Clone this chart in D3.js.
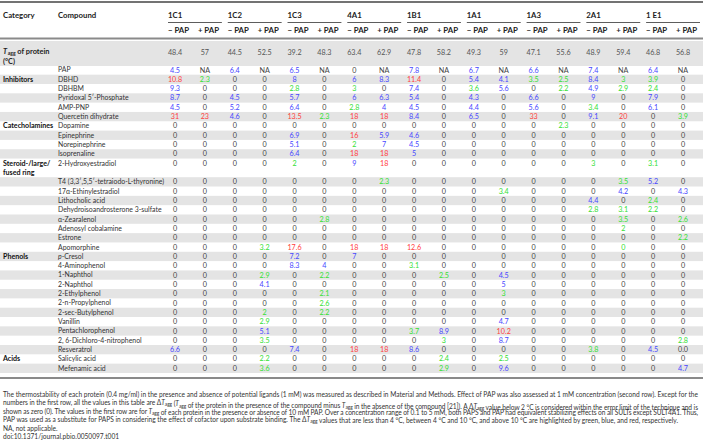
<!DOCTYPE html>
<html><head><meta charset="utf-8">
<script src="https://cdn.jsdelivr.net/npm/d3@7"></script>
<style>body{margin:0;background:#fff}svg{display:block}text{font-family:Lato,"Open Sans",sans-serif}</style>
</head><body><svg id="c" width="703" height="440"></svg>
<script>
// ---------- DATA ----------
const isoforms = ["1C1","1C2","1C3","4A1","1B1","1A1","1A3","2A1","1 E1"];
const conditions = ["− PAP","+ PAP"];
const taggValues = ["48.4","57","44.5","52.5","39.2","48.3","63.4","62.9","47.8","58.2","49.3","59","47.1","55.6","48.9","59.4","46.8","56.8"];
const compounds = ["PAP","DBHD","DBHBM","Pyridoxal 5′-Phosphate","AMP-PNP","Quercetin dihydrate",
  "Dopamine","Epinephrine","Norepinephrine","Isoprenaline",
  "2-Hydroxyestradiol","T4 (3,3′,5,5′-tetraiodo-L-thyronine)","17α-Ethinylestradiol","Lithocholic acid",
  "Dehydroisoandrosterone 3-sulfate","α-Zearalenol","Adenosyl cobalamine","Estrone","Apomorphine",
  "p-Cresol","4-Aminophenol","1-Naphthol","2-Naphthol","2-Ethylphenol","2-n-Propylphenol","2-sec-Butylphenol",
  "Vanillin","Pentachlorophenol","2, 6-Dichloro-4-nitrophenol","Resveratrol","Salicylic acid","Mefenamic acid"];
const categoryLabels = [["Inhibitors"],["Catecholamines"],["Steroid-/large/","fused ring"],["Phenols"],["Acids"]];
const categoryFirst = ["DBHD","Dopamine","2-Hydroxyestradiol","p-Cresol","Salicylic acid"];
// ΔTagg values, one array per compound, columns: isoform × (−PAP, +PAP)
const deltaTagg = [
 ["4.5","NA","6.4","NA","6.5","NA","0","NA","7.8","NA","6.7","NA","6.6","NA","7.4","NA","6.4","NA"],
 ["10.8","2.3","0","0","8","0","6","8.3","11.4","0","5.4","4.1","3.5","2.5","8.4","3","3.9","0"],
 ["9.3","0","0","0","2.8","0","3","0","7.4","0","3.6","5.6","0","2.2","4.9","2.9","2.4","0"],
 ["8.7","0","4.5","0","5.7","0","6","6.3","5.4","0","4.3","0","6.6","0","9","0","7.9","0"],
 ["4.5","0","5.2","0","6.4","0","2.8","4","4.5","0","4.4","0","5.6","0","3.4","0","6.1","0"],
 ["31","23","4.6","0","13.5","2.3","18","18","8.4","0","6.5","0","33","0","9.1","20","0","3.9"],
 ["0","0","0","0","0","0","0","0","0","0","0","0","0","2.3","0","0","0","0"],
 ["0","0","0","0","6.9","0","16","5.9","4.6","0","0","0","0","0","0","0","0","0"],
 ["0","0","0","0","5.1","0","2","7","4.5","0","0","0","0","0","0","0","0","0"],
 ["0","0","0","0","6.4","0","18","18","5","0","0","0","0","0","0","0","0","0"],
 ["0","0","0","0","2","0","9","18","0","0","0","0","0","0","3","0","3.1","0"],
 ["0","0","0","0","0","0","0","2.3","0","0","0","0","0","0","0","3.5","5.2","0"],
 ["0","0","0","0","0","0","0","0","0","0","0","3.4","0","0","0","4.2","0","4.3"],
 ["0","0","0","0","0","0","0","0","0","0","0","0","0","0","4.4","0","2.4","0"],
 ["0","0","0","0","0","0","0","0","0","0","0","0","0","0","2.8","3.1","2.2","0"],
 ["0","0","0","0","0","2.8","0","0","0","0","0","0","0","0","0","3.5","0","2.6"],
 ["0","0","0","0","0","0","0","0","0","0","0","0","0","0","0","2","0","0"],
 ["0","0","0","0","0","0","0","0","0","0","0","0","0","0","0","0","0","2.2"],
 ["0","0","0","3.2","17.6","0","18","18","12.6","0","0","0","0","0","0","0","0","0"],
 ["0","0","0","0","7.2","0","7","0","0","0","","0","0","0","0","0","0","0"],
 ["0","0","0","0","8.3","4","0","0","3.1","0","0","0","0","0","0","0","0","0"],
 ["0","0","0","2.9","0","2.2","0","0","0","2.5","0","4.5","0","0","0","0","0","0"],
 ["0","0","0","4.1","0","0","0","0","0","0","0","5","0","0","0","0","0","0"],
 ["0","0","0","0","0","2.1","0","0","0","0","0","3","0","0","0","0","0","0"],
 ["0","0","0","0","0","2.6","0","0","0","0","0","0","0","0","0","0","0","0"],
 ["0","0","0","2","0","2.2","0","0","0","0","0","0","0","0","0","0","0","0"],
 ["0","0","0","2.9","0","0","0","0","0","0","0","4.7","0","0","0","0","0","0"],
 ["0","0","0","5.1","0","0","0","0","3.7","8.9","0","10.2","0","0","0","0","0","0"],
 ["0","0","0","3.5","0","0","0","0","0","3","0","8.7","0","0","0","0","0","2.8"],
 ["6.6","0","0","0","7.4","0","18","18","8.6","0","0","0","0","0","3.8","0","4.5","0.0"],
 ["0","0","0","2.2","0","0","0","0","0","2.4","0","2.5","0","0","0","0","0","0"],
 ["0","0","0","3.6","0","0","0","0","0","2.9","0","9.6","0","0","0","0","0","4.7"]
];
// cells printed in green although zero in the source table: [compoundIndex, column]
const greenZeroCells = [[18,15]];
const footnote = [
 "The thermostability of each protein (0.4 mg/ml) in the presence and absence of potential ligands (1 mM) was measured as described in Material and Methods. Effect of PAP was also assessed at 1 mM concentration (second row). Except for the",
 "numbers in the first row, all the values in this table are Δ§ (§ of the protein in the presence of the compound minus § in the absence of the compound [21]). A Δ§ value below 2 °C is considered within the error limit of the technique and is",
 "shown as zero (0). The values in the first row are for § of each protein in the presence or absence of 10 mM PAP. Over a concentration range of 0.1 to 5 mM, both PAPS and PAP had equivalent stabilizing effects on all SULTs except SULT4A1. Thus,",
 "PAP was used as a substitute for PAPS in considering the effect of cofactor upon substrate binding. The Δ§ values that are less than 4 °C, between 4 °C and 10 °C, and above 10 °C are highlighted by green, blue, and red, respectively.",
 "NA, not applicable.",
 "doi:10.1371/journal.pbio.0050097.t001"
];

// ---------- DRAW ----------
const svg = d3.select("#c");
const W = 703;
const FS = 7.2;   // values font size
const FC = 6.9;   // compound names font size
const nCols = isoforms.length * conditions.length;
const x = d3.scaleLinear().domain([0, nCols - 1]).range([175, 683]);
const lineOf = i => i + (i > compounds.indexOf("2-Hydroxyestradiol") ? 1 : 0);
const y = d3.scaleLinear().domain([0, 32]).range([70, 368.3]);
const rowH = y(1) - y(0);
const GRAY = "#e4e4e4";
const colorOf = (v, r, c) => {
  if (greenZeroCells.some(([a,b]) => a === r && b === c)) return "#33e033";
  const n = +v;
  if (v === "NA" || v === "" || isNaN(n) || n === 0) return "#444";
  if (n < 4) return "#33e033";
  if (n <= 10) return "#4747ff";
  return "#ff4040";
};

// background bands
svg.append("rect").attr("x",0).attr("y",41).attr("width",W).attr("height",25).attr("fill",GRAY);
svg.selectAll("rect.band").data(compounds.map((c,i)=>i).filter(i => i % 2 === 1))
  .join("rect").attr("class","band")
  .attr("x",0).attr("width",W)
  .attr("y", i => y(lineOf(i)) - rowH/2).attr("height", rowH)
  .attr("fill", GRAY);

// rules
svg.append("line").attr("x1",0).attr("x2",W).attr("y1",2).attr("y2",2).attr("stroke","#444").attr("stroke-width",1.6);
svg.append("line").attr("x1",0).attr("x2",W).attr("y1",38.5).attr("y2",38.5).attr("stroke","#8a8a8a").attr("stroke-width",1.8);
svg.append("line").attr("x1",0).attr("x2",W).attr("y1",378).attr("y2",378).attr("stroke","#8a8a8a").attr("stroke-width",1.8);

// header
const hdr = svg.append("g").attr("font-weight","bold").attr("fill","#222").attr("font-size",7.8);
hdr.append("text").attr("x",3).attr("y",18).text("Category");
hdr.append("text").attr("x",58).attr("y",18).text("Compound");
isoforms.forEach((iso, g) => {
  const x0 = x(2*g) - 7, x1 = x(2*g+1) + 17;
  hdr.append("text").attr("x", x0).attr("y", 18).text(iso);
  svg.append("line").attr("x1",x0).attr("x2",x1).attr("y1",22.5).attr("y2",22.5).attr("stroke","#333").attr("stroke-width",0.8);
  conditions.forEach((cnd, k) => {
    hdr.append("text").attr("x", x(2*g+k) - 7).attr("y", 32.5).text(cnd);
  });
});

// Tagg row
const tl = svg.append("text").attr("x",3).attr("y",53.5).attr("font-size",7.4).attr("font-weight","bold").attr("fill","#222");
tl.append("tspan").attr("font-style","italic").text("T");
tl.append("tspan").attr("font-size",5).attr("dx",0.6).attr("dy",1.2).text("agg");
tl.append("tspan").attr("dy",-1.2).text(" of protein");
svg.append("text").attr("x",3).attr("y",64).attr("font-size",7.4).attr("font-weight","bold").attr("fill","#222").text("(°C)");
svg.selectAll("text.tagg").data(taggValues).join("text").attr("class","tagg")
  .attr("x",(d,i)=>x(i)).attr("y",54.5).attr("text-anchor","middle")
  .attr("font-size",FS).attr("fill","#555").text(d=>d);

// compound names
svg.selectAll("text.cmp").data(compounds).join("text").attr("class","cmp")
  .attr("x",58).attr("y",(d,i)=>y(lineOf(i))).attr("dy","0.35em")
  .attr("font-size",FC).attr("fill","#333")
  .each(function(d){
    const t = d3.select(this);
    if (d.startsWith("p-")) { t.append("tspan").attr("font-style","italic").text("p"); t.append("tspan").text(d.slice(1)); }
    else t.text(d);
  });

// category labels
categoryLabels.forEach((lines, k) => {
  const li = lineOf(compounds.indexOf(categoryFirst[k]));
  lines.forEach((s, j) => {
    svg.append("text").attr("x",3).attr("y",y(li + j)).attr("dy","0.35em")
      .attr("font-size",7.1).attr("font-weight","bold").attr("fill","#111").text(s);
  });
});

// values
deltaTagg.forEach((row, r) => {
  svg.append("g").selectAll("text").data(row).join("text")
    .attr("x",(d,c)=>x(c)).attr("y",y(lineOf(r))).attr("dy","0.35em")
    .attr("text-anchor","middle").attr("font-size",FS)
    .attr("fill",(d,c)=>colorOf(d,r,c)).text(d=>d);
});

// footnote
const fy = [396.5, 405, 413.5, 422, 430.5, 439];
footnote.forEach((line, i) => {
  const t = svg.append("text").attr("x",3).attr("y",fy[i]).attr("font-size",6.6).attr("fill","#333");
  if (i < 3) t.attr("textLength",695).attr("lengthAdjust","spacing");
  line.split("§").forEach((part, j) => {
    if (j > 0) {
      t.append("tspan").attr("font-style","italic").text("T");
      t.append("tspan").attr("font-size",4.8).attr("dy",1.3).text("agg");
      t.append("tspan").attr("dy",-1.3).text("");
    }
    t.append("tspan").text(part);
  });
});
</script></body></html>
